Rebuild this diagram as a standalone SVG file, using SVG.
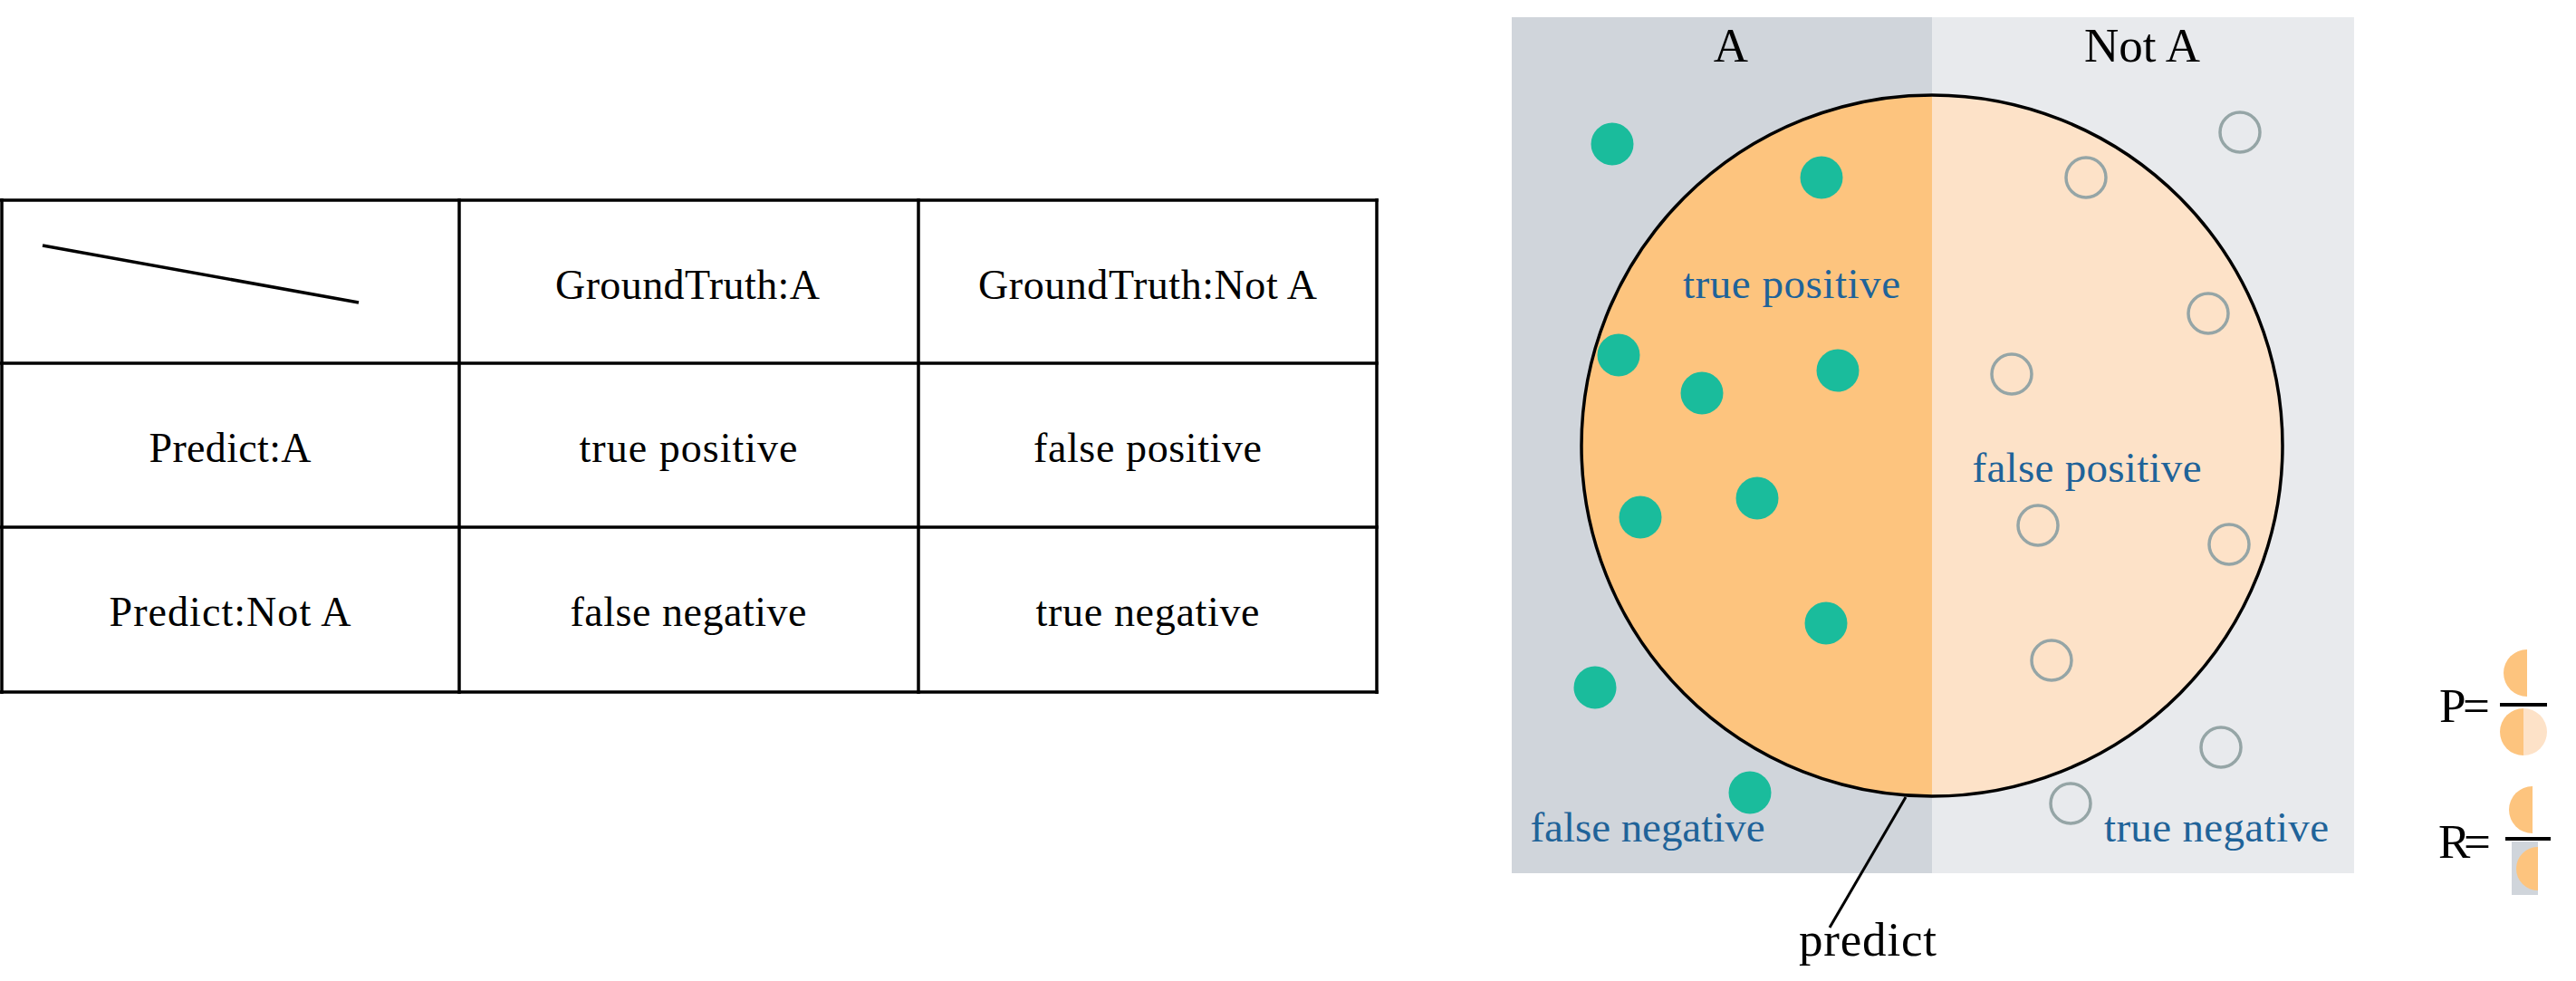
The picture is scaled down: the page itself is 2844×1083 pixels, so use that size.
<svg xmlns="http://www.w3.org/2000/svg" width="2844" height="1083" viewBox="0 0 2844 1083">
  <style>
    .grid { stroke: #000; stroke-width: 3.5; fill: none; }
    .t { font-family: "Liberation Serif", "Times New Roman", serif; font-size: 46px; fill: #000; text-anchor: middle; }
    .hd { font-family: "Liberation Serif", "Times New Roman", serif; font-size: 53px; fill: #000; text-anchor: middle; }
    .bl { font-family: "Liberation Serif", "Times New Roman", serif; font-size: 47px; fill: #1F6399; text-anchor: middle; }
    .pos { fill: #1ABC9C; }
    .neg { fill: none; stroke: #95A5A6; stroke-width: 3.5; }
    .orange { fill: #FDC47E; }
    .light { fill: #FDE2C8; }
  </style>
  <defs>
    <clipPath id="circClip">
      <circle cx="2133" cy="492" r="387"/>
    </clipPath>
  </defs>
  <rect width="2844" height="1083" fill="#fff"/>

  <!-- Confusion table -->
  <g id="table">
    <line class="grid" x1="0" y1="221" x2="1522" y2="221"/>
    <line class="grid" x1="0" y1="401" x2="1522" y2="401"/>
    <line class="grid" x1="0" y1="582" x2="1522" y2="582"/>
    <line class="grid" x1="0" y1="764" x2="1522" y2="764"/>
    <line class="grid" x1="2" y1="219" x2="2" y2="766"/>
    <line class="grid" x1="507" y1="219" x2="507" y2="766"/>
    <line class="grid" x1="1014" y1="219" x2="1014" y2="766"/>
    <line class="grid" x1="1520" y1="219" x2="1520" y2="766"/>
    <line stroke="#000" stroke-width="3.5" x1="47" y1="271" x2="396" y2="334"/>
    <text class="t" x="759" y="330" textLength="292">GroundTruth:A</text>
    <text class="t" x="1267" y="330" textLength="374">GroundTruth:Not A</text>
    <text class="t" x="254" y="510" textLength="179">Predict:A</text>
    <text class="t" x="760" y="510" textLength="241">true positive</text>
    <text class="t" x="1267" y="510" textLength="252">false positive</text>
    <text class="t" x="254" y="691" textLength="267">Predict:Not A</text>
    <text class="t" x="760" y="691" textLength="261">false negative</text>
    <text class="t" x="1267" y="691" textLength="247">true negative</text>
  </g>

  <!-- Ground truth regions -->
  <g id="region-A">
    <rect x="1669" y="19" width="464" height="945" fill="#D0D5DB"/>
    <text class="hd" x="1911" y="68">A</text>
  </g>
  <g id="region-notA">
    <rect x="2133" y="19" width="466" height="945" fill="#E8EAED"/>
    <text class="hd" x="2365" y="68" textLength="128">Not A</text>
  </g>

  <!-- Prediction circle -->
  <g id="predict-circle">
    <g clip-path="url(#circClip)">
      <rect class="orange" x="1740" y="100" width="393" height="790"/>
      <rect class="light" x="2133" y="100" width="393" height="790"/>
    </g>
    <circle cx="2133" cy="492" r="387" fill="none" stroke="#000" stroke-width="3.5"/>
  </g>

  <!-- Samples -->
  <g id="positives">
    <circle class="pos" cx="1780" cy="159" r="23.5"/>
    <circle class="pos" cx="2011" cy="196" r="23.5"/>
    <circle class="pos" cx="1787" cy="392" r="23.5"/>
    <circle class="pos" cx="1879" cy="434" r="23.5"/>
    <circle class="pos" cx="2029" cy="409" r="23.5"/>
    <circle class="pos" cx="1811" cy="571" r="23.5"/>
    <circle class="pos" cx="1940" cy="550" r="23.5"/>
    <circle class="pos" cx="2016" cy="688" r="23.5"/>
    <circle class="pos" cx="1761" cy="759" r="23.5"/>
    <circle class="pos" cx="1932" cy="875" r="23.5"/>
  </g>
  <g id="negatives">
    <circle class="neg" cx="2473" cy="146" r="22"/>
    <circle class="neg" cx="2303" cy="196" r="22"/>
    <circle class="neg" cx="2438" cy="346" r="22"/>
    <circle class="neg" cx="2221" cy="413" r="22"/>
    <circle class="neg" cx="2250" cy="580" r="22"/>
    <circle class="neg" cx="2461" cy="601" r="22"/>
    <circle class="neg" cx="2265" cy="729" r="22"/>
    <circle class="neg" cx="2452" cy="825" r="22"/>
    <circle class="neg" cx="2286" cy="887" r="22"/>
  </g>

  <!-- Region labels -->
  <g id="labels">
    <text class="bl" x="1978" y="329" textLength="240">true positive</text>
    <text class="bl" x="2304" y="532" textLength="253">false positive</text>
    <text class="bl" x="1819" y="929" textLength="259">false negative</text>
    <text class="bl" x="2447" y="929" textLength="248">true negative</text>
  </g>

  <!-- Callout -->
  <g id="connectors">
    <line x1="2104" y1="880" x2="2020" y2="1024" stroke="#000" stroke-width="3"/>
  </g>
  <g id="predict-label">
    <text class="hd" x="2062" y="1055" textLength="152">predict</text>
  </g>

  <!-- Precision -->
  <g id="precision">
    <text class="hd" x="2721" y="797" textLength="56">P=</text>
    <path class="orange" d="M2790,717 A26,26 0 0 0 2790,769 Z"/>
    <line x1="2760" y1="778" x2="2812" y2="778" stroke="#000" stroke-width="4"/>
    <path class="orange" d="M2786,782 A26,26 0 0 0 2786,834 Z"/>
    <path class="light" d="M2786,782 A26,26 0 0 1 2786,834 Z"/>
  </g>

  <!-- Recall -->
  <g id="recall">
    <text class="hd" x="2721" y="947" textLength="58">R=</text>
    <path class="orange" d="M2796,868 A26,26 0 0 0 2796,920 Z"/>
    <line x1="2766" y1="926" x2="2816" y2="926" stroke="#000" stroke-width="4"/>
    <rect x="2773" y="929" width="29" height="59" fill="#D0D5DB"/>
    <path class="orange" d="M2802,935 A24,24 0 0 0 2802,983 Z"/>
  </g>
</svg>
